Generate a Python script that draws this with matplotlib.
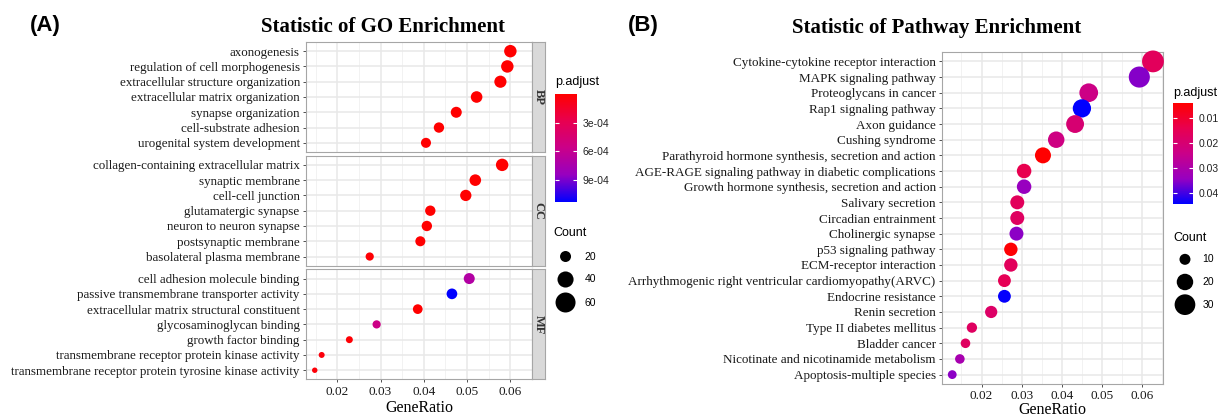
import numpy as np
import matplotlib.pyplot as plt
from matplotlib.colors import LinearSegmentedColormap, Normalize
from matplotlib.cm import ScalarMappable

plt.rcParams['font.family'] = ['Liberation Serif']

W, H = 1232, 418

# ---- GO enrichment (panel A) ----
bp_terms = ['axonogenesis', 'regulation of cell morphogenesis',
            'extracellular structure organization', 'extracellular matrix organization',
            'synapse organization', 'cell-substrate adhesion', 'urogenital system development']
bp_ratio = [0.0600, 0.0593, 0.0577, 0.0522, 0.0475, 0.0435, 0.0405]
bp_count = [25, 25, 24, 22, 20, 18, 17]
bp_padj = [2e-9, 5e-9, 1e-8, 3e-7, 1e-6, 4e-6, 8e-6]

cc_terms = ['collagen-containing extracellular matrix', 'synaptic membrane', 'cell-cell junction',
            'glutamatergic synapse', 'neuron to neuron synapse', 'postsynaptic membrane',
            'basolateral plasma membrane']
cc_ratio = [0.0581, 0.0519, 0.0497, 0.0415, 0.0407, 0.0392, 0.0275]
cc_count = [25, 22, 21, 18, 18, 17, 12]
cc_padj = [1e-8, 2e-7, 5e-7, 3e-6, 4e-6, 6e-6, 2e-5]

mf_terms = ['cell adhesion molecule binding', 'passive transmembrane transporter activity',
            'extracellular matrix structural constituent', 'glycosaminoglycan binding',
            'growth factor binding', 'transmembrane receptor protein kinase activity',
            'transmembrane receptor protein tyrosine kinase activity']
mf_ratio = [0.0505, 0.0465, 0.0386, 0.0291, 0.0228, 0.0164, 0.0148]
mf_count = [20, 19, 16, 12, 9, 7, 6]
mf_padj = [7.0e-4, 1.13e-3, 3e-6, 5.5e-4, 2e-5, 4e-5, 3e-5]

go_facets = ['BP', 'CC', 'MF']
go_ticks = [0.02, 0.03, 0.04, 0.05, 0.06]
go_cbar_ticks = [3e-4, 6e-4, 9e-4]
go_cbar_labels = ['3e-04', '6e-04', '9e-04']
go_size_breaks = [20, 40, 60]

# ---- KEGG enrichment (panel B) ----
kegg_terms = ['Cytokine-cytokine receptor interaction', 'MAPK signaling pathway',
              'Proteoglycans in cancer', 'Rap1 signaling pathway', 'Axon guidance',
              'Cushing syndrome', 'Parathyroid hormone synthesis, secretion and action',
              'AGE-RAGE signaling pathway in diabetic complications',
              'Growth hormone synthesis, secretion and action', 'Salivary secretion',
              'Circadian entrainment', 'Cholinergic synapse', 'p53 signaling pathway',
              'ECM-receptor interaction', 'Arrhythmogenic right ventricular cardiomyopathy(ARVC)',
              'Endocrine resistance', 'Renin secretion', 'Type II diabetes mellitus',
              'Bladder cancer', 'Nicotinate and nicotinamide metabolism',
              'Apoptosis-multiple species']
kegg_ratio = [0.0627, 0.0593, 0.0467, 0.0450, 0.0433, 0.0386, 0.0353, 0.0306, 0.0306, 0.0289,
              0.0289, 0.0287, 0.0273, 0.0273, 0.0257, 0.0257, 0.0224, 0.0176, 0.0160, 0.0146,
              0.0127]
kegg_count = [33, 31, 25, 24, 23, 20, 19, 16, 16, 15, 15, 15, 14, 14, 13, 13, 12, 9, 8, 8, 7]
kegg_padj = [0.016, 0.0355, 0.0235, 0.0444, 0.020, 0.023, 0.0040, 0.014, 0.034, 0.016,
             0.017, 0.035, 0.0045, 0.016, 0.015, 0.0440, 0.018, 0.017, 0.017, 0.031, 0.035]
kegg_ticks = [0.02, 0.03, 0.04, 0.05, 0.06]
kegg_cbar_ticks = [0.01, 0.02, 0.03, 0.04]
kegg_size_breaks = [10, 20, 30]

# red -> blue through Lab-like purple
cmap = LinearSegmentedColormap.from_list(
    'padj', ['#FF0000', '#E80050', '#CA0089', '#9700C0', '#0000FF'])


def size_go(c):
    d = 2.75 * np.sqrt(np.asarray(c, float)) - 1.3
    return (d * 0.72) ** 2


def size_kegg(c):
    d = 4.2 * np.sqrt(np.asarray(c, float)) - 2.3
    return (d * 0.72) ** 2


fig = plt.figure(figsize=(W / 100, H / 100), dpi=100)


def px_axes(x0, y0, x1, y1):
    return fig.add_axes([x0 / W, 1 - y1 / H, (x1 - x0) / W, (y1 - y0) / H])


def style_panel(ax, ticks, xlim, n):
    ax.set_xlim(*xlim)
    ax.set_ylim(n - 0.4, -0.6)
    ax.set_xticks(ticks)
    ax.set_xticks([t - 0.005 for t in ticks] + [ticks[-1] + 0.005], minor=True)
    ax.set_yticks(range(n))
    ax.grid(which='major', color='#E8E8E8', lw=1.1)
    ax.grid(which='minor', axis='x', color='#F0F0F0', lw=0.6)
    ax.set_axisbelow(True)
    for sp in ax.spines.values():
        sp.set_color('#A6A6A6')
        sp.set_linewidth(0.8)
    ax.tick_params(axis='both', which='major', length=2.5, width=0.6, color='#333333',
                   labelsize=9.5, labelcolor='#1a1a1a', pad=2)
    ax.tick_params(axis='x', which='minor', length=0)


# ---- panel A ----
go_norm = Normalize(min(bp_padj + cc_padj + mf_padj), max(bp_padj + cc_padj + mf_padj))
go_rows = [(bp_terms, bp_ratio, bp_count, bp_padj),
           (cc_terms, cc_ratio, cc_count, cc_padj),
           (mf_terms, mf_ratio, mf_count, mf_padj)]
top, ph, gap = 42, 110.0, 3.7
for i, (terms, ratio, count, padj) in enumerate(go_rows):
    y0 = top + i * (ph + gap)
    ax = px_axes(306, y0, 532, y0 + ph)
    style_panel(ax, go_ticks, (0.01278, 0.0622), len(terms))
    ax.scatter(ratio, range(len(terms)), s=size_go(count), c=padj, cmap=cmap,
               norm=go_norm, linewidths=0, zorder=3)
    ax.set_yticklabels(terms, fontsize=9.35)
    if i < 2:
        ax.tick_params(axis='x', which='major', length=0, labelbottom=False)
    else:
        ax.set_xticklabels([f'{t:.2f}' for t in go_ticks], fontsize=9.5)
        ax.set_xlabel('GeneRatio', fontsize=11.5, labelpad=2)
    st = px_axes(532, y0, 545, y0 + ph)
    st.set_facecolor('#D9D9D9')
    st.set_xticks([])
    st.set_yticks([])
    for sp in st.spines.values():
        sp.set_color('#A6A6A6')
        sp.set_linewidth(0.8)
    st.text(0.5, 0.5, go_facets[i], rotation=-90, ha='center', va='center',
            fontsize=9, fontweight='bold', color='#333333', transform=st.transAxes)

fig.text(383 / W, 1 - 27 / H, 'Statistic of GO Enrichment', ha='center', va='center',
         fontsize=15, fontweight='bold')
fig.text(30 / W, 1 - 25 / H, '(A)', ha='left', va='center', fontsize=16,
         fontweight='bold', family='Liberation Sans')

# colourbar A
cax = px_axes(555, 94, 577, 202)
cb = fig.colorbar(ScalarMappable(go_norm, cmap), cax=cax)
cb.outline.set_visible(False)
cax.invert_yaxis()
cb.set_ticks(go_cbar_ticks)
cb.set_ticklabels(go_cbar_labels)
cax.tick_params(length=3, width=0.8, color='white', direction='in', labelsize=7.5,
                pad=4, labelcolor='#222222', left=True)
for lab in cax.get_yticklabels():
    lab.set_family('Liberation Sans')
fig.text(555 / W, 1 - 82 / H, 'p.adjust', fontsize=9, family='Liberation Sans',
         ha='left', va='center')

# size legend A
fig.text(553 / W, 1 - 233 / H, 'Count', fontsize=9, family='Liberation Sans',
         ha='left', va='center')
kax = px_axes(553, 245, 610, 314)
kax.set_xlim(0, 1)
kax.set_ylim(len(go_size_breaks) - 0.5, -0.5)
kax.axis('off')
kax.scatter([0.22] * 3, range(3), s=size_go(go_size_breaks), c='black', linewidths=0)
for j, b in enumerate(go_size_breaks):
    kax.text(0.56, j, str(b), fontsize=7.5, family='Liberation Sans', va='center')

# ---- panel B ----
kegg_norm = Normalize(min(kegg_padj), max(kegg_padj))
n = len(kegg_terms)
ax = px_axes(942, 52, 1163, 384)
style_panel(ax, kegg_ticks, (0.01015, 0.0652), n)
ax.scatter(kegg_ratio, range(n), s=size_kegg(kegg_count), c=kegg_padj, cmap=cmap,
           norm=kegg_norm, linewidths=0, zorder=3, clip_on=False)
ax.set_yticklabels(kegg_terms, fontsize=9.45)
ax.set_xticklabels([f'{t:.2f}' for t in kegg_ticks], fontsize=9.5)
ax.set_xlabel('GeneRatio', fontsize=11.5, labelpad=0)

fig.text(937 / W, 1 - 28 / H, 'Statistic of Pathway Enrichment', ha='center', va='center',
         fontsize=15, fontweight='bold')
fig.text(628 / W, 1 - 26 / H, '(B)', ha='left', va='center', fontsize=16,
         fontweight='bold', family='Liberation Sans')

cax2 = px_axes(1173, 103, 1193, 204)
cb2 = fig.colorbar(ScalarMappable(kegg_norm, cmap), cax=cax2)
cb2.outline.set_visible(False)
cax2.invert_yaxis()
cb2.set_ticks(kegg_cbar_ticks)
cb2.set_ticklabels([f'{t:.2f}' for t in kegg_cbar_ticks])
cax2.tick_params(length=3, width=0.8, color='white', direction='in', labelsize=7.5,
                 pad=4, labelcolor='#222222', left=True)
for lab in cax2.get_yticklabels():
    lab.set_family('Liberation Sans')
fig.text(1173 / W, 1 - 93 / H, 'p.adjust', fontsize=9, family='Liberation Sans',
         ha='left', va='center')

fig.text(1173 / W, 1 - 238 / H, 'Count', fontsize=9, family='Liberation Sans',
         ha='left', va='center')
kax2 = px_axes(1173, 248, 1230, 316)
kax2.set_xlim(0, 1)
kax2.set_ylim(len(kegg_size_breaks) - 0.5, -0.5)
kax2.axis('off')
kax2.scatter([0.21] * 3, range(3), s=size_kegg(kegg_size_breaks), c='black', linewidths=0)
for j, b in enumerate(kegg_size_breaks):
    kax2.text(0.52, j, str(b), fontsize=7.5, family='Liberation Sans', va='center')

fig.savefig('out.png', dpi=100)
